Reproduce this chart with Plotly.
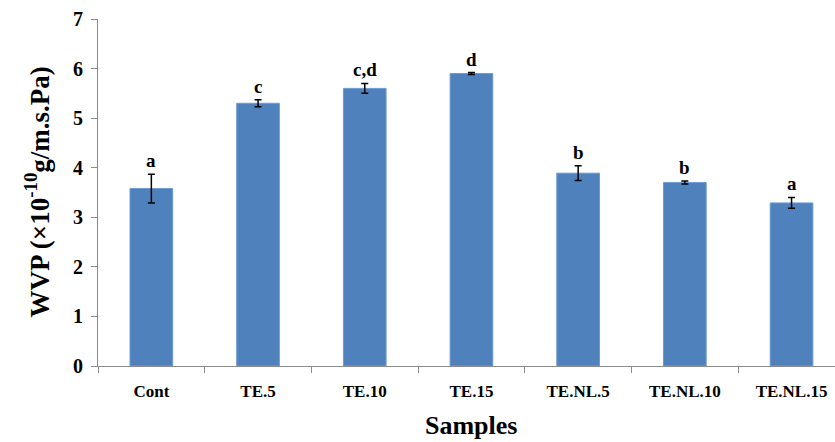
import plotly.graph_objects as go

categories = ["Cont", "TE.5", "TE.10", "TE.15", "TE.NL.5", "TE.NL.10", "TE.NL.15"]
values = [3.58, 5.30, 5.60, 5.90, 3.89, 3.70, 3.29]
errors = [0.29, 0.07, 0.10, 0.02, 0.15, 0.03, 0.11]
letters = ["a", "c", "c,d", "d", "b", "b", "a"]
y_ticks = [0, 1, 2, 3, 4, 5, 6, 7]

W, H = 835, 442
L, R, T, B = 98, 0, 19, 76
plot_w = W - L - R
px_per_cat = 106.7
x_max = -0.5 + plot_w / px_per_cat

FONT = "Liberation Serif, Times New Roman, serif"

fig = go.Figure()
fig.add_trace(go.Bar(
    x=categories, y=values, width=0.4,
    marker=dict(color="#4F81BD", line=dict(color="#6C9BD2", width=1)),
    error_y=dict(type="data", array=errors, visible=True,
                 color="black", thickness=1.5, width=3.5),
    showlegend=False,
))

for c, v, e, t in zip(categories, values, errors, letters):
    fig.add_annotation(x=c, y=v + e, text=f"<b>{t}</b>", showarrow=False,
                       yanchor="bottom", yshift=1,
                       font=dict(family=FONT, size=19, color="black"))

fig.add_annotation(xref="paper", yref="paper",
                   x=(37 - L) / plot_w, y=0.5,
                   text="<b>WVP (×10<sup>-10</sup>g/m.s.Pa)</b>",
                   textangle=-90, showarrow=False,
                   xanchor="center", yanchor="middle",
                   font=dict(family=FONT, size=27, color="black"))
fig.add_annotation(xref="paper", yref="paper",
                   x=(471 - L) / plot_w, y=-(425 - (H - B)) / (H - T - B),
                   text="<b>Samples</b>", showarrow=False,
                   xanchor="center", yanchor="middle",
                   font=dict(family=FONT, size=26, color="black"))

fig.update_layout(
    width=W, height=H,
    margin=dict(l=L, r=R, t=T, b=B, pad=0),
    plot_bgcolor="white", paper_bgcolor="white",
    bargap=0.6,
)
fig.update_xaxes(
    type="category", range=[-0.5, x_max],
    showline=True, linecolor="#8C8C8C", linewidth=1,
    ticks="outside", tickson="boundaries", ticklen=6, tickcolor="#8C8C8C",
    showgrid=False, zeroline=False,
    tickfont=dict(family=FONT, size=17, color="black"),
    tickprefix="<b>", ticksuffix="</b>",
    ticklabelstandoff=10,
)
fig.update_yaxes(
    range=[0, 7], tickvals=y_ticks,
    ticktext=[f"<b>{v}</b>" for v in y_ticks],
    showline=True, linecolor="#8C8C8C", linewidth=1,
    ticks="outside", ticklen=6, tickcolor="#8C8C8C",
    showgrid=False, zeroline=False,
    tickfont=dict(family=FONT, size=20, color="black"),
    ticklabelstandoff=4,
)

fig.write_html("out.html")
